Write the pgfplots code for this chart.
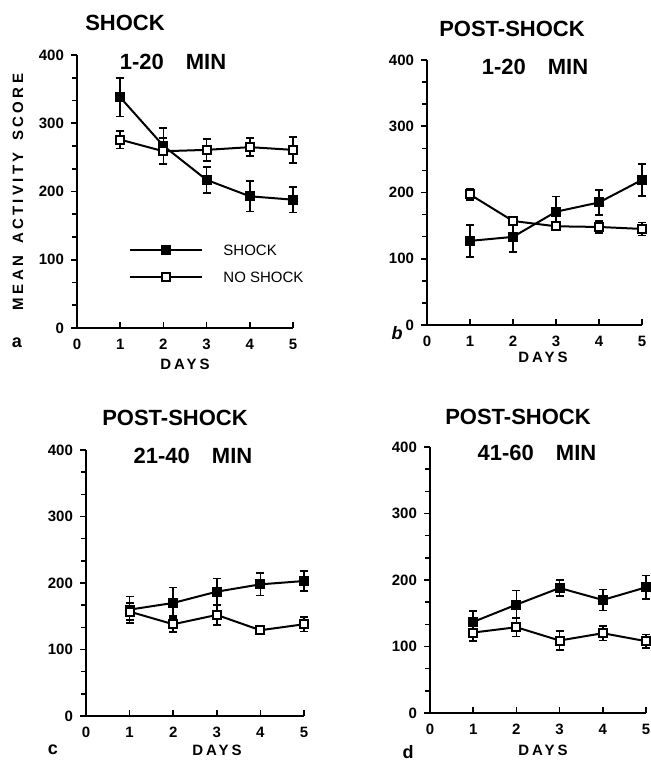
\documentclass[border=0pt]{standalone}
\usepackage{fontspec}
\setmainfont{Liberation Sans}
\newfontfamily\spaced[LetterSpace=20]{Liberation Sans}
\newfontfamily\yspaced[LetterSpace=22]{Liberation Sans}
\usepackage{pgfplots}
\pgfplotsset{compat=1.18}

\pgfplotsset{
  panel/.style={
    scale only axis, anchor=south west,
    xmin=0, xmax=5, ymin=0, ymax=400,
    xtick={0,...,5}, ytick={0,100,...,400}, minor y tick num=2,
    axis x line*=bottom, axis y line*=left,
    axis line style={line width=1pt},
    tick style={line width=0.8pt, black},
    xtick align=inside, ytick align=outside,
    major tick length=3pt, minor tick length=2.5pt,
    ticklabel style={font=\fontsize{7.5}{8}\selectfont\bfseries},
    xticklabel style={yshift=-2pt},
    /pgf/number format/assume math mode=true,
    clip=false,
  },
  errs/.style={error bars/.cd, y dir=both, y explicit,
    error bar style={line width=0.8pt, black},
    error mark options={rotate=90, mark size=2pt, line width=0.8pt, black}},
  shock/.style={black, line width=1pt, mark=square*, mark size=2pt,
    mark options={solid, fill=black}, errs},
  noshock/.style={black, line width=1pt, mark=square*, mark size=2pt,
    mark options={solid, fill=white}, errs},
}
\tikzset{ttl/.style={font=\fontsize{11}{12}\selectfont\bfseries},
  days/.style={font=\fontsize{7.5}{8}\selectfont\spaced\bfseries},
  plab/.style={font=\fontsize{9}{10}\selectfont\bfseries}}

\begin{document}
\begin{tikzpicture}
\path[use as bounding box] (0,0) rectangle (325.5pt,-380.5pt);

% a: shock 1-20 min
\begin{axis}[panel, at={(38.5pt,-164pt)}, width=108pt, height=136.5pt,
  legend style={draw=none, fill=none, inner sep=0pt, at={(0.241,0.319)}, anchor=north west,
    font=\fontsize{7.5}{8}\selectfont, row sep=4.5pt,
    nodes={inner sep=1pt, text height=6pt, text depth=1pt},
    /tikz/every odd column/.append style={column sep=9pt}},
  legend cell align=left,
  legend image code/.code={\draw[mark repeat=2,mark phase=2] plot coordinates {(0pt,0pt) (18pt,0pt) (36pt,0pt)};}]
\addplot[shock] coordinates {(1,338) +- (0,28) (2,267) +- (0,26) (3,217) +- (0,19) (4,193) +- (0,22) (5,188) +- (0,19)};
\addplot[noshock] coordinates {(1,276) +- (0,13) (2,259) +- (0,19) (3,261) +- (0,16) (4,265) +- (0,13) (5,261) +- (0,19)};
\legend{SHOCK, NO SHOCK}
\end{axis}

% b: post-shock 1-20 min
\begin{axis}[panel, at={(213.5pt,-162.5pt)}, width=107.5pt, height=132.5pt]
\addplot[shock] coordinates {(1,127) +- (0,24) (2,133) +- (0,23) (3,171) +- (0,23) (4,185) +- (0,19) (5,219) +- (0,24)};
\addplot[noshock] coordinates {(1,197) +- (0,8) (2,157) +- (0,7) (3,149) +- (0,5) (4,148) +- (0,9) (5,145) +- (0,10)};
\end{axis}

% c: post-shock 21-40 min
\begin{axis}[panel, at={(43pt,-358pt)}, width=109pt, height=133pt]
\addplot[shock] coordinates {(1,160) +- (0,20) (2,170) +- (0,23) (3,187) +- (0,20) (4,198) +- (0,17) (5,203) +- (0,15)};
\addplot[noshock] coordinates {(1,157) +- (0,13) (2,138) +- (0,12) (3,152) +- (0,15) (4,129) +- (0,5) (5,138) +- (0,11)};
\end{axis}

% d: post-shock 41-60 min
\begin{axis}[panel, at={(215pt,-356.5pt)}, width=108pt, height=133pt]
\addplot[shock] coordinates {(1,137) +- (0,16) (2,163) +- (0,21) (3,188) +- (0,12) (4,170) +- (0,16) (5,189) +- (0,18)};
\addplot[noshock] coordinates {(1,121) +- (0,13) (2,129) +- (0,14) (3,109) +- (0,14) (4,120) +- (0,11) (5,108) +- (0,10)};
\end{axis}

% titles and labels
\node[ttl] at (62.5pt,-11.5pt) {SHOCK};
\node[ttl] at (86.5pt,-31pt) {1-20\quad MIN};
\node[ttl] at (256pt,-14.5pt) {POST-SHOCK};
\node[ttl] at (267.5pt,-33.5pt) {1-20\quad MIN};
\node[ttl] at (87.5pt,-209pt) {POST-SHOCK};
\node[ttl] at (96.5pt,-228pt) {21-40\quad MIN};
\node[ttl] at (259pt,-208.5pt) {POST-SHOCK};
\node[ttl] at (268.5pt,-226.5pt) {41-60\quad MIN};
\node[days] at (92.5pt,-182pt) {DAYS};
\node[days] at (271.5pt,-178.5pt) {DAYS};
\node[days] at (108.5pt,-375pt) {DAYS};
\node[days] at (271.5pt,-375pt) {DAYS};
\node[plab] at (8.5pt,-171.5pt) {a};
\node[plab] at (198.5pt,-166.5pt) {\itshape b};
\node[plab] at (26.5pt,-375pt) {c};
\node[plab] at (204pt,-376pt) {d};
\node[rotate=90, font=\fontsize{7.5}{8}\selectfont\yspaced\bfseries] at (9pt,-96pt) {MEAN\hspace{6pt}ACTIVITY\hspace{6pt}SCORE};
\end{tikzpicture}
\end{document}
